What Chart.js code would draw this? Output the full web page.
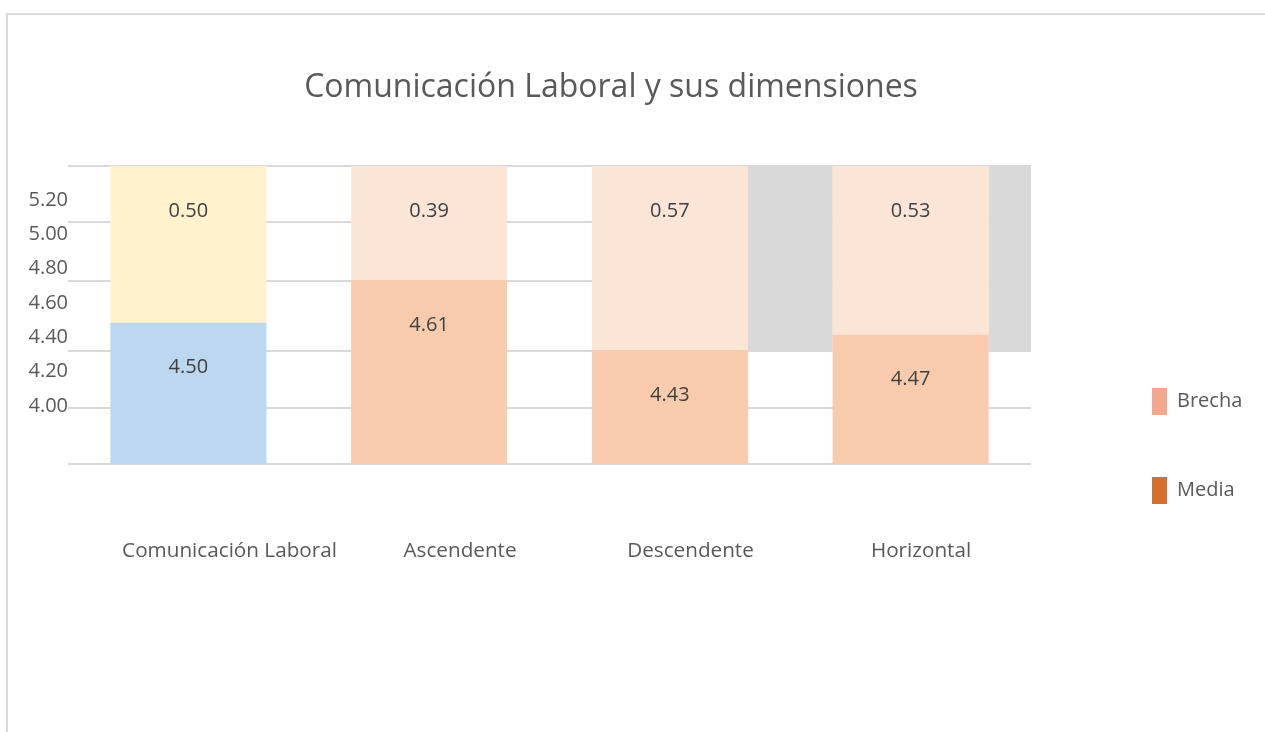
<!DOCTYPE html>
<html>
<head>
<meta charset="utf-8">
<script src="https://cdn.jsdelivr.net/npm/chart.js@4.4.1/dist/chart.umd.min.js"></script>
<style>
  html, body { margin: 0; background: #fff; overflow: hidden; width: 1265px; height: 732px; }
  #frame { position: absolute; left: 6px; top: 13px; right: 0; bottom: 0; border-left: 2px solid #d9d9d9; border-top: 2px solid #d9d9d9; }
  #chart { position: absolute; left: -23px; top: 0; }
</style>
</head>
<body>
<div id="frame"></div>
<canvas id="chart" width="1288" height="732"></canvas>
<script>
const categories = ['Comunicación Laboral', 'Ascendente', 'Descendente', 'Horizontal'];
const media = [4.50, 4.61, 4.43, 4.47];
const brecha = [0.50, 0.39, 0.57, 0.53];
const mediaColors = ['#BDD7EE', '#F8CBAD', '#F8CBAD', '#F8CBAD'];
const brechaColors = ['#FFF2CC', '#FBE5D6', '#FBE5D6', '#FBE5D6'];

// gray blocks sit on the category boundaries (second, hidden x axis)
const slotLabels = ['', '', '', '', ''];
const grayBlocks = [null, null, null, [4.43, 5.0], [4.43, 5.0]];

const legendLabels = ['Brecha', 'Media'];
const legendColors = ['#F2A98B', '#D4702C'];

// tick labels as printed on the left, and where the grid lines fall
const tickLabels = [4.00, 4.20, 4.40, 4.60, 4.80, 5.00, 5.20];
const gridValues = [4.137, 4.281, 4.428, 4.607, 4.759, 4.903];
// category names are printed a little right of their bars
const categoryTicks = [0, 1, 2, 3];

const FONT = 'Open Sans';
const TXT = '#595959';

const valueLabels = {
    id: 'valueLabels',
    afterDatasetsDraw(chart) {
        const ctx = chart.ctx;
        const area = chart.chartArea;
        ctx.save();
        ctx.font = '20px "' + FONT + '"';
        ctx.fillStyle = '#404040';
        ctx.textAlign = 'center';
        ctx.textBaseline = 'middle';
        [0, 1].forEach(di => {
            const meta = chart.getDatasetMeta(di);
            const values = chart.data.datasets[di].data;
            meta.data.forEach((bar, i) => {
                const top = Math.max(bar.y, area.top);
                ctx.fillText(values[i].toFixed(2), bar.x, top + 45);
            });
        });
        ctx.restore();
    }
};

function legendItem(text, color) {
    return { text: text, fillStyle: color, strokeStyle: color, fontColor: TXT, lineWidth: 0, hidden: false };
}

new Chart(document.getElementById('chart'), {
    type: 'bar',
    data: {
        labels: categories,
        datasets: [
            {
                label: 'Media',
                data: media,
                grouped: false,
                backgroundColor: mediaColors,
                categoryPercentage: 0.648,
                barPercentage: 1,
                clip: 0
            },
            {
                label: 'Brecha',
                data: brecha,
                grouped: false,
                backgroundColor: brechaColors,
                categoryPercentage: 0.648,
                barPercentage: 1,
                clip: 0
            },
            {
                label: 'gap',
                data: grayBlocks,
                xAxisID: 'x2',
                grouped: false,
                backgroundColor: '#D9D9D9',
                categoryPercentage: 0.353,
                barPercentage: 1,
                clip: 0
            }
        ]
    },
    plugins: [valueLabels],
    options: {
        responsive: false,
        animation: false,
        layout: { padding: { left: 0, right: 20, top: 0, bottom: 166 } },
        scales: {
            x: {
                stacked: true,
                ticks: { display: false },
                grid: { display: false, drawTicks: false },
                border: { display: false },
                afterFit: s => { s.height = 0; }
            },
            x2: {
                type: 'category',
                labels: slotLabels,
                offset: false,
                display: false
            },
            xl: {
                type: 'linear',
                position: 'bottom',
                offset: false,
                min: -0.7007,
                max: 3.477,
                afterBuildTicks: s => { s.ticks = categoryTicks.map(v => ({ value: v })); },
                grid: { display: false, drawTicks: false },
                border: { display: false },
                ticks: {
                    color: TXT,
                    font: { family: FONT, size: 20.7 },
                    padding: 75,
                    maxRotation: 0,
                    autoSkip: false,
                    callback: v => categories[v]
                },
                afterFit: s => { s.height = 102; }
            },
            y: {
                stacked: true,
                min: 4.137,
                max: 4.903,
                afterBuildTicks: s => { s.ticks = gridValues.map(v => ({ value: v })); },
                ticks: { display: false },
                grid: { color: '#D9D9D9', lineWidth: 2, drawTicks: false },
                border: { display: false },
                afterFit: s => { s.width = 0; }
            },
            yl: {
                position: 'left',
                min: 3.662,
                max: 5.398,
                afterBuildTicks: s => { s.ticks = tickLabels.map(v => ({ value: v })); },
                ticks: {
                    color: TXT,
                    font: { family: FONT, size: 20 },
                    padding: 0,
                    callback: v => Number(v).toFixed(2)
                },
                grid: { display: false, drawTicks: false },
                border: { display: false },
                afterFit: s => { s.width = 91; }
            },
            yr: {
                position: 'right',
                ticks: { display: false },
                grid: { display: false, drawTicks: false },
                border: { display: false },
                afterFit: s => { s.width = 103.5; }
            }
        },
        plugins: {
            title: {
                display: true,
                text: 'Comunicación Laboral y sus dimensiones',
                color: TXT,
                font: { family: FONT, size: 32, weight: 'normal' },
                padding: { top: 68.8, bottom: 58.8 }
            },
            legend: {
                position: 'right',
                align: 'end',
                maxWidth: 110.5,
                labels: {
                    boxWidth: 15,
                    boxHeight: 27,
                    padding: 17.5,
                    color: TXT,
                    font: { family: FONT, size: 20 },
                    generateLabels: () => {
                        const blank = legendItem('', 'rgba(0,0,0,0)');
                        // blank entries keep the swatches apart and lift them off the axis line
                        return [legendItem(legendLabels[0], legendColors[0]), blank,
                                legendItem(legendLabels[1], legendColors[1]), blank];
                    }
                }
            },
            tooltip: { enabled: false }
        }
    }
});
</script>
</body>
</html>
